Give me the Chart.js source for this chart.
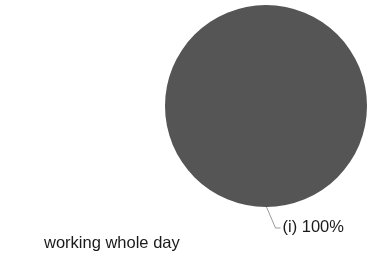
<!DOCTYPE html>
<html>
<head>
<meta charset="utf-8">
<script src="https://cdn.jsdelivr.net/npm/chart.js@4"></script>
<style>
  html, body { margin: 0; padding: 0; background: #ffffff; }
  #wrap { width: 367px; height: 260px; }
</style>
</head>
<body>
<div id="wrap"><canvas id="pieChart" width="367" height="260"></canvas></div>
<script>
const labels = ['(i)'];
const values = [100];
const colors = ['#555555'];
const caption = 'working whole day';

// leader line + percent label under the slice
const leaderLabels = {
    id: 'leaderLabels',
    afterDatasetsDraw(chart) {
        const ctx = chart.ctx;
        const meta = chart.getDatasetMeta(0);
        const total = values.reduce((a, b) => a + b, 0);
        meta.data.forEach((arc, i) => {
            const p = arc.getProps(['x', 'y', 'outerRadius']);
            const ang = Math.PI / 2 - 0.005;
            const x0 = p.x + Math.cos(ang) * p.outerRadius;
            const y0 = p.y + Math.sin(ang) * p.outerRadius;
            const x1 = x0 + 9, y1 = y0 + 21;
            ctx.save();
            ctx.strokeStyle = '#9a9a9a';
            ctx.lineWidth = 1;
            ctx.beginPath();
            ctx.moveTo(x0, y0);
            ctx.lineTo(x1, y1);
            ctx.lineTo(x1 + 5, y1);
            ctx.stroke();
            ctx.fillStyle = '#1a1a1a';
            ctx.font = '16.5px "Liberation Sans", Arial, sans-serif';
            ctx.textBaseline = 'middle';
            ctx.textAlign = 'left';
            const pct = Math.round(values[i] / total * 100);
            ctx.fillText(labels[i] + ' ' + pct + '%', x1 + 7, y1 - 1);
            ctx.restore();
        });
        ctx.save();
        ctx.fillStyle = '#1a1a1a';
        ctx.font = '16.5px "Liberation Sans", Arial, sans-serif';
        ctx.textBaseline = 'middle';
        ctx.fillText(caption, 44, 243);
        ctx.restore();
    }
};

new Chart(document.getElementById('pieChart'), {
    type: 'pie',
    data: {
        labels: labels,
        datasets: [{
            data: values,
            backgroundColor: colors,
            borderWidth: 0
        }]
    },
    options: {
        responsive: false,
        animation: false,
        layout: { padding: { left: 165, right: 0, top: 4, bottom: 52 } },
        plugins: {
            legend: { display: false },
            tooltip: { enabled: false }
        }
    },
    plugins: [leaderLabels]
});
</script>
</body>
</html>
